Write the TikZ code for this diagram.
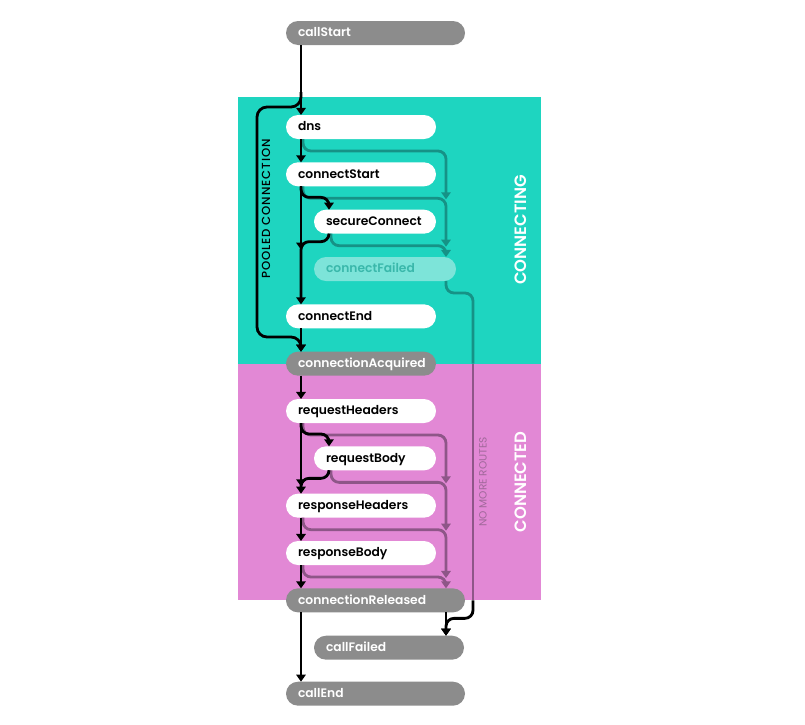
\documentclass[tikz,border=0pt]{standalone}
\usepackage{fontspec}
\setmainfont{Poppins}[BoldFont={Poppins SemiBold}]
\newfontfamily\labelfont{Poppins Medium}[LetterSpace=8]
\usetikzlibrary{arrows.meta, positioning, calc, backgrounds}
\definecolor{connbg}{RGB}{30,213,192}
\definecolor{connedbg}{RGB}{226,136,213}
\definecolor{evgray}{RGB}{140,140,140}
\definecolor{tealroute}{RGB}{22,146,134}
\definecolor{mauveroute}{RGB}{142,86,136}
\definecolor{failfill}{RGB}{125,228,217}
\definecolor{failtext}{RGB}{58,184,171}
\definecolor{nomoretext}{RGB}{160,104,154}

\begin{document}
\begin{tikzpicture}[x=0.03cm, y=-0.03cm, node distance=0.7cm,
    pill/.style={rounded corners=0.36cm, minimum height=0.72cm, inner xsep=0.36cm, inner ysep=0pt, outer sep=0pt, text width=#1, align=left, text height=1.6ex, text depth=0.45ex, font=\bfseries\fontsize{10.5}{12}\selectfont},
    callevt/.style={pill=#1, fill=evgray, text=white},
    stepevt/.style={pill=#1, fill=white, text=black},
    failevt/.style={pill=#1, fill=failfill, text=failtext},
    flow/.style={-{Triangle[width=8pt,length=6pt]}, line width=2.4pt},
    failroute/.style={flow, rounded corners=0.24cm},
    phase/.style={rotate=90, text=white, font=\bfseries\fontsize{14}{16}\selectfont},
    routelabel/.style={rotate=90, font=\fontsize{9}{11}\selectfont}]

\useasboundingbox (0,0) rectangle (805,725);

% events, top to bottom
\node[callevt=4.65cm, anchor=west] (callStart) at (286,33) {callStart};
\node[stepevt=3.78cm, below=2.1cm of callStart.south west, anchor=north west] (dns) {dns};
\node[stepevt=3.78cm, below=of dns.south west, anchor=north west] (connectStart) {connectStart};
\node[stepevt=2.94cm, below=of connectStart.south west, anchor=north west, xshift=0.84cm] (secureConnect) {secureConnect};
\node[failevt=3.54cm, below=of secureConnect.south west, anchor=north west] (connectFailed) {connectFailed};
\node[stepevt=3.78cm, below=of connectFailed.south west, anchor=north west, xshift=-0.84cm] (connectEnd) {connectEnd};
\node[callevt=3.78cm, below=of connectEnd.south west, anchor=north west] (connAcquired) {connectionAcquired};
\node[stepevt=3.78cm, below=of connAcquired.south west, anchor=north west] (requestHeaders) {requestHeaders};
\node[stepevt=2.94cm, below=of requestHeaders.south west, anchor=north west, xshift=0.84cm] (requestBody) {requestBody};
\node[stepevt=3.78cm, below=of requestBody.south west, anchor=north west, xshift=-0.84cm] (responseHeaders) {responseHeaders};
\node[stepevt=3.78cm, below=of responseHeaders.south west, anchor=north west] (responseBody) {responseBody};
\node[callevt=4.65cm, below=of responseBody.south west, anchor=north west] (connReleased) {connectionReleased};
\node[callevt=3.78cm, below=of connReleased.south west, anchor=north west, xshift=0.84cm] (callFailed) {callFailed};
\node[callevt=4.65cm, below=0.66cm of callFailed.south west, anchor=north west, xshift=-0.84cm] (callEnd) {callEnd};

% columns for the lines
\coordinate (spine) at (301,0);
\coordinate (branch) at (329,0);
\coordinate (failcol) at (446,0);
\coordinate (nomore) at (473,0);
\coordinate (pooltop) at (301,92);

% failure routes
\foreach \from/\to in {dns/connectStart, connectStart/secureConnect}
  \draw[failroute, tealroute] ($(\from.south west)+(17,0)$) |- ($(\from.south -| failcol)+(0,12)$) -- ($(\to.south -| failcol)+(0,13)$);
\draw[failroute, tealroute] ($(secureConnect.south west)+(17,0)$) |- ($(secureConnect.south -| failcol)+(0,12)$) -- (connectFailed.north -| failcol);
\foreach \from/\to in {requestHeaders/requestBody, requestBody/responseHeaders, responseHeaders/responseBody}
  \draw[failroute, mauveroute] ($(\from.south west)+(17,0)$) |- ($(\from.south -| failcol)+(0,12)$) -- ($(\to.south -| failcol)+(0,13)$);
\draw[failroute, mauveroute] ($(responseBody.south west)+(17,0)$) |- ($(responseBody.south -| failcol)+(0,12)$) -- (connReleased.north -| failcol);

\draw[failroute, tealroute, -] (connectFailed.south -| failcol) |- ($(connectFailed.south -| nomore)+(0,12)$) -- (connAcquired.center -| nomore);
\draw[line width=2.4pt, mauveroute] (connAcquired.center -| nomore) -- (connReleased.center -| nomore);
\draw[failroute, black] (connReleased.center -| nomore) -- ($(connReleased.south -| nomore)+(0,6)$) -| (callFailed.north -| failcol);

% main flow
\draw[flow] (callStart.south -| spine) -- (dns.north -| spine);
\draw[flow] (dns.south -| spine) -- (connectStart.north -| spine);
\draw[flow, rounded corners=0.24cm] (connectStart.south -| spine) |- ($(connectStart.south -| branch)+(0,11)$) -- (secureConnect.north -| branch);
\draw[flow] (connectStart.south -| spine) -- ($(secureConnect.south -| spine)+(0,16)$);
\draw[flow, rounded corners=0.24cm] (secureConnect.south -| branch) |- ($(secureConnect.south -| spine)+(0,8)$) -- (connectEnd.north -| spine);
\draw[flow] (connectEnd.south -| spine) -- (connAcquired.north -| spine);
\draw[flow, rounded corners=0.3cm] (pooltop) |- (257,107) -- (257,337) -| (connAcquired.north -| spine);

\draw[flow] (connAcquired.south -| spine) -- (requestHeaders.north -| spine);
\draw[flow, rounded corners=0.24cm] (requestHeaders.south -| spine) |- ($(requestHeaders.south -| branch)+(0,11)$) -- (requestBody.north -| branch);
\draw[flow] (requestHeaders.south -| spine) -- ($(requestBody.south -| spine)+(0,16)$);
\draw[flow, rounded corners=0.24cm] (requestBody.south -| branch) |- ($(requestBody.south -| spine)+(0,8)$) -- (responseHeaders.north -| spine);
\draw[flow] (responseHeaders.south -| spine) -- (responseBody.north -| spine);
\draw[flow] (responseBody.south -| spine) -- (connReleased.north -| spine);
\draw[flow] (connReleased.south -| spine) -- (callEnd.north -| spine);
\draw[flow] (connReleased.south -| failcol) -- (callFailed.north -| failcol);

% labels
\node[routelabel, font=\labelfont\fontsize{10}{12}\selectfont] (pooledlabel) at (266,209) {POOLED CONNECTION};
\node[routelabel, text=nomoretext] (nomorelabel) at (483,482) {NO MORE ROUTES};
\node[phase] (connectinglabel) at (521,230) {CONNECTING};
\node[phase] (connectedlabel) at (521,482) {CONNECTED};

% phases
\begin{scope}[on background layer]
  \fill[connbg] (238,97) rectangle (connAcquired.center -| 541,0);
  \fill[connedbg] (238,0 |- connAcquired.center) rectangle (connReleased.center -| 541,0);
\end{scope}
\end{tikzpicture}
\end{document}
